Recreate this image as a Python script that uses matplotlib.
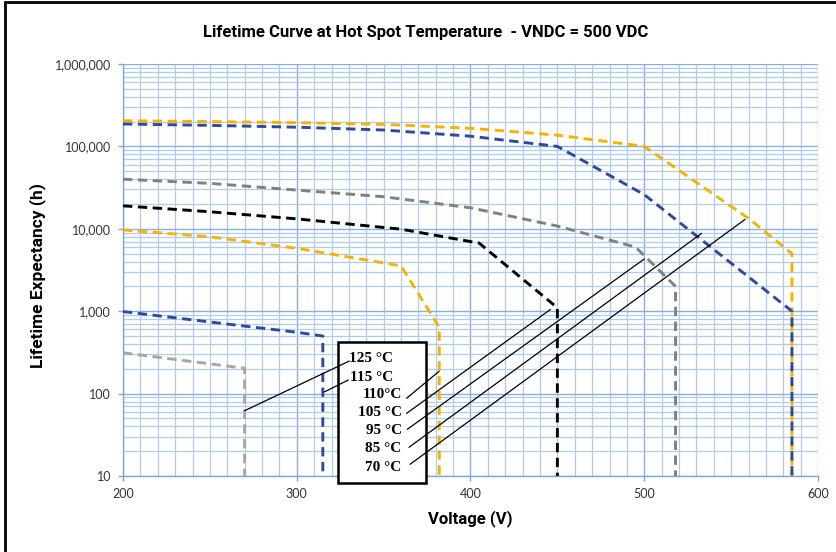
import matplotlib.pyplot as plt
from matplotlib.ticker import MultipleLocator, LogLocator, FuncFormatter, NullFormatter
from matplotlib.patches import Rectangle

#%% Data (voltage [V] vs lifetime [h])
v_70 = [200, 250, 300, 350, 400, 450, 500, 560, 585, 585]
h_70 = [205000, 200000, 194000, 185000, 166000, 137000, 100000, 13400, 5000, 10]

v_85 = [200, 250, 300, 350, 400, 450, 500, 585, 585]
h_85 = [187000, 180000, 171000, 158000, 133000, 100000, 26000, 1000, 10]

v_95 = [200, 250, 300, 350, 400, 450, 495, 518, 518]
h_95 = [40000, 35600, 29500, 24500, 18000, 10800, 6000, 2000, 10]

v_105 = [200, 250, 300, 360, 405, 450, 450]
h_105 = [19000, 16100, 13200, 9900, 6700, 1100, 10]

v_110 = [200, 250, 300, 360, 382, 382]
h_110 = [9700, 8000, 5800, 3550, 640, 10]

v_115 = [200, 250, 300, 315, 315]
h_115 = [990, 740, 555, 500, 10]

v_125 = [200, 270, 270]
h_125 = [313, 203, 10]

curves = [(v_70, h_70, '#F5B300'),
          (v_85, h_85, '#2E4A9E'),
          (v_95, h_95, '#808080'),
          (v_105, h_105, '#000000'),
          (v_110, h_110, '#F5B300'),
          (v_115, h_115, '#2E4A9E'),
          (v_125, h_125, '#A6A6A6')]

# labels in the box and the point each leader line goes to
label_texts = ['125 °C', '115 °C', '110°C', '105 °C', '95 °C', '85 °C', '70 °C']
target_v = [270, 316, 382, 446, 500, 533, 558]
target_h = [62, 105, 187, 1050, 4300, 8800, 13000]

#%% Plot
fig = plt.figure(figsize=(8.37, 5.52), dpi=100)
ax = fig.add_axes([123/837, 1 - 476/552, 695/837, 412/552])

for v, h, c in curves:
    ax.plot(v, h, color=c, lw=2.1, dashes=(3.2, 1.9), zorder=3)

ax.set_yscale('log')
ax.set_xlim(200, 600)
ax.set_ylim(10, 1000000)

ax.xaxis.set_major_locator(MultipleLocator(100))
ax.xaxis.set_minor_locator(MultipleLocator(10))
ax.yaxis.set_major_locator(LogLocator(base=10, numticks=10))
ax.yaxis.set_minor_locator(LogLocator(base=10, subs=range(2, 10), numticks=50))
ax.yaxis.set_minor_formatter(NullFormatter())
ax.yaxis.set_major_formatter(FuncFormatter(lambda y, p: f'{int(round(y)):,}'))

ax.grid(True, which='major', color='#8AAFDC', lw=1.0, zorder=0)
ax.grid(True, which='minor', color='#AFCCEC', lw=0.9, zorder=0)
ax.set_axisbelow(True)

for s in ['top', 'right']:
    ax.spines[s].set_visible(False)
for s in ['left', 'bottom']:
    ax.spines[s].set_color('#7FA6D8')
    ax.spines[s].set_linewidth(1.0)

ax.tick_params(which='major', length=3.5, width=1.0, color='#7FA6D8', pad=5,
               labelsize=9, labelcolor='#333333')
ax.tick_params(which='minor', length=0)
for lab in ax.get_xticklabels() + ax.get_yticklabels():
    lab.set_family('Lato')

head_font = ['Roboto', 'DejaVu Sans']
ax.set_title('Lifetime Curve at Hot Spot Temperature  - VNDC = 500 VDC',
             family=head_font, fontweight='bold', fontsize=12, pad=0, y=1.0)
ax.title.set_position((0.435, 1 + (64 - 33) / 412))
ax.title.set_va('center')
ax.set_xlabel('Voltage (V)', family=head_font, fontweight='bold', fontsize=12, va='center')
ax.xaxis.set_label_coords(0.5, (476 - 519) / 412)
ax.set_ylabel('Lifetime Expectancy (h)', family=head_font, fontweight='bold', fontsize=12.5, va='center')
ax.yaxis.set_label_coords((38 - 123) / 695, (476 - 275) / 412)

# label box
box = Rectangle((0.3089, -0.0163), 0.1266, 0.3408, transform=ax.transAxes,
                facecolor='white', edgecolor='black', lw=1.8, clip_on=False, zorder=5)
ax.add_patch(box)

text_x = [0.3889, 0.3889, 0.401, 0.401, 0.401, 0.401, 0.401]
text_y = [0.2774, 0.2313, 0.190, 0.1464, 0.1012, 0.0575, 0.0121]
line_x = [0.3256, 0.3242, 0.408, 0.408, 0.409, 0.4115, 0.413]
line_y = [0.279, 0.233, 0.1886, 0.152, 0.1133, 0.0697, 0.0284]

for i in range(len(label_texts)):
    ax.text(text_x[i], text_y[i], label_texts[i], transform=ax.transAxes,
            ha='right', va='baseline', family='Liberation Serif', fontweight='bold',
            fontsize=11, zorder=6)
    ax.annotate('', xy=(target_v[i], target_h[i]), xycoords='data',
                xytext=(line_x[i], line_y[i]), textcoords='axes fraction',
                arrowprops=dict(arrowstyle='-', color='black', lw=0.9,
                                shrinkA=0, shrinkB=0), zorder=7)

# black frame of the chart area (only left and top fall inside the picture)
frame = Rectangle((5/837, -0.5), 1.2, 1.5 - 2/552, transform=fig.transFigure,
                  fill=False, edgecolor='black', lw=2.0, clip_on=False)
fig.add_artist(frame)

fig.savefig('out.png', dpi=100)
